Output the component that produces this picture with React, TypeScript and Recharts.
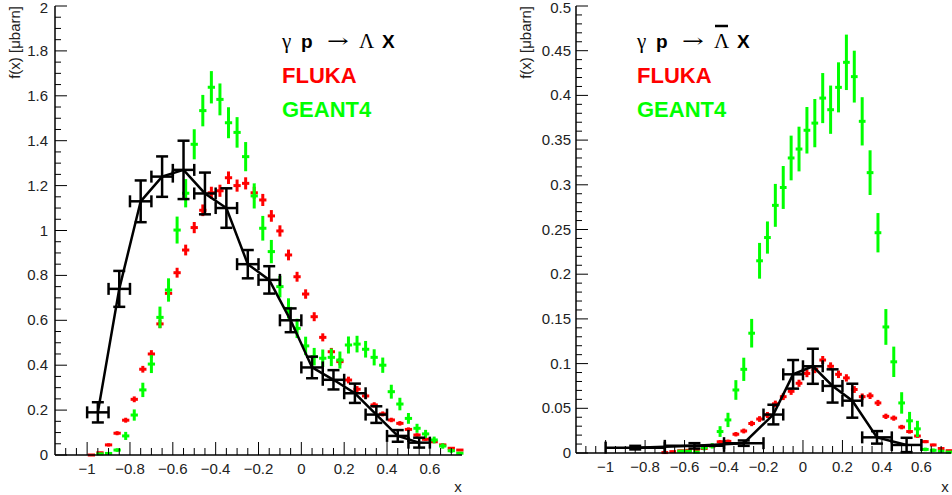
import React from "react";
import { ComposedChart, Scatter, ErrorBar, XAxis, YAxis } from "recharts";

// ---------- axis ticks ----------
const xMajor = [-1, -0.8, -0.6, -0.4, -0.2, 0, 0.2, 0.4, 0.6];
const xMajorLabels = ["\u22121", "\u22120.8", "\u22120.6", "\u22120.4", "\u22120.2", "0", "0.2", "0.4", "0.6"];
const lamYMajor = [0, 0.2, 0.4, 0.6, 0.8, 1, 1.2, 1.4, 1.6, 1.8, 2];
const lamYLabels = ["0", "0.2", "0.4", "0.6", "0.8", "1", "1.2", "1.4", "1.6", "1.8", "2"];
const barYMajor = [0, 0.05, 0.1, 0.15, 0.2, 0.25, 0.3, 0.35, 0.4, 0.45, 0.5];
const barYLabels = ["0", "0.05", "0.1", "0.15", "0.2", "0.25", "0.3", "0.35", "0.4", "0.45", "0.5"];

// ---------- gamma p -> Lambda X ----------
const lamDataX = [-0.95, -0.85, -0.75, -0.65, -0.55, -0.45, -0.35, -0.25, -0.15, -0.05, 0.05, 0.15, 0.25, 0.35, 0.45, 0.55];
const lamDataY = [0.19, 0.74, 1.13, 1.24, 1.27, 1.165, 1.1, 0.85, 0.78, 0.6, 0.39, 0.335, 0.275, 0.18, 0.085, 0.055];
const lamDataEy = [0.045, 0.08, 0.093, 0.09, 0.13, 0.093, 0.088, 0.063, 0.061, 0.053, 0.048, 0.043, 0.043, 0.037, 0.026, 0.022];

const lamFlukaX = [-0.98, -0.94, -0.9, -0.86, -0.82, -0.78, -0.74, -0.7, -0.66, -0.62, -0.58, -0.54, -0.5, -0.46, -0.42, -0.38, -0.34, -0.3, -0.26, -0.22, -0.18, -0.14, -0.1, -0.06, -0.02, 0.02, 0.06, 0.1, 0.14, 0.18, 0.22, 0.26, 0.3, 0.34, 0.38, 0.42, 0.46, 0.5, 0.54, 0.58, 0.62, 0.66, 0.7, 0.74];
const lamFlukaY = [0.0, 0.01, 0.045, 0.097, 0.155, 0.248, 0.382, 0.45, 0.584, 0.72, 0.812, 0.913, 1.013, 1.09, 1.168, 1.177, 1.235, 1.2, 1.21, 1.168, 1.136, 1.065, 0.998, 0.891, 0.794, 0.717, 0.616, 0.524, 0.46, 0.416, 0.334, 0.293, 0.263, 0.223, 0.183, 0.156, 0.141, 0.114, 0.089, 0.07, 0.059, 0.045, 0.03, 0.022];
const lamFlukaEy = [0.002, 0.004, 0.007, 0.009, 0.011, 0.013, 0.015, 0.017, 0.019, 0.021, 0.022, 0.024, 0.025, 0.026, 0.027, 0.027, 0.028, 0.027, 0.027, 0.027, 0.027, 0.026, 0.025, 0.024, 0.022, 0.021, 0.02, 0.018, 0.017, 0.016, 0.015, 0.014, 0.013, 0.012, 0.011, 0.01, 0.01, 0.009, 0.008, 0.007, 0.006, 0.006, 0.005, 0.004];

const lamGeantX = [-0.94, -0.9, -0.86, -0.82, -0.78, -0.74, -0.7, -0.66, -0.62, -0.58, -0.54, -0.5, -0.46, -0.42, -0.38, -0.34, -0.3, -0.26, -0.22, -0.18, -0.14, -0.1, -0.06, -0.02, 0.02, 0.06, 0.1, 0.14, 0.18, 0.22, 0.26, 0.3, 0.34, 0.38, 0.42, 0.46, 0.5, 0.54, 0.58, 0.62, 0.66, 0.7, 0.74];
const lamGeantY = [0.005, 0.007, 0.022, 0.085, 0.178, 0.29, 0.405, 0.613, 0.735, 1.002, 1.166, 1.384, 1.534, 1.638, 1.584, 1.48, 1.437, 1.329, 1.154, 1.01, 0.906, 0.75, 0.653, 0.564, 0.486, 0.438, 0.431, 0.435, 0.423, 0.49, 0.494, 0.471, 0.435, 0.4, 0.282, 0.227, 0.163, 0.119, 0.094, 0.067, 0.04, 0.019, 0.008];
const lamGeantEy = [0.004, 0.005, 0.008, 0.018, 0.025, 0.032, 0.04, 0.048, 0.052, 0.06, 0.063, 0.067, 0.07, 0.072, 0.071, 0.069, 0.068, 0.065, 0.056, 0.055, 0.052, 0.048, 0.045, 0.043, 0.041, 0.039, 0.039, 0.039, 0.038, 0.038, 0.037, 0.037, 0.036, 0.034, 0.031, 0.028, 0.024, 0.02, 0.018, 0.015, 0.012, 0.009, 0.006];

// ---------- gamma p -> anti-Lambda X ----------
const barDataX = [-0.85, -0.55, -0.3, -0.15, -0.05, 0.05, 0.15, 0.25, 0.375, 0.525];
const barDataY = [0.006, 0.008, 0.011, 0.043, 0.088, 0.097, 0.075, 0.0585, 0.0175, 0.009];
const barDataEx = [0.15, 0.15, 0.1, 0.05, 0.05, 0.05, 0.05, 0.05, 0.075, 0.075];
const barDataEy = [0.002, 0.003, 0.003, 0.011, 0.016, 0.0196, 0.0186, 0.019, 0.007, 0.008];

const barFlukaX = [-0.7, -0.66, -0.62, -0.58, -0.54, -0.5, -0.46, -0.42, -0.38, -0.34, -0.3, -0.26, -0.22, -0.18, -0.14, -0.1, -0.06, -0.02, 0.02, 0.06, 0.1, 0.14, 0.18, 0.22, 0.26, 0.3, 0.34, 0.38, 0.42, 0.46, 0.5, 0.54, 0.58, 0.62, 0.66, 0.7, 0.74];
const barFlukaY = [0.0005, 0.0015, 0.0025, 0.003, 0.004, 0.005, 0.008, 0.0125, 0.013, 0.021, 0.0246, 0.033, 0.038, 0.0425, 0.055, 0.063, 0.069, 0.078, 0.089, 0.0936, 0.104, 0.097, 0.088, 0.084, 0.071, 0.063, 0.064, 0.056, 0.041, 0.039, 0.029, 0.024, 0.019, 0.0127, 0.009, 0.005, 0.0026];
const barFlukaEy = [0.0005, 0.001, 0.001, 0.001, 0.0012, 0.0013, 0.0016, 0.002, 0.002, 0.0025, 0.0027, 0.003, 0.0032, 0.0034, 0.0036, 0.0038, 0.004, 0.004, 0.0042, 0.0043, 0.0045, 0.0044, 0.0042, 0.0041, 0.0038, 0.0036, 0.0036, 0.0034, 0.003, 0.0029, 0.0025, 0.0023, 0.002, 0.0017, 0.0014, 0.001, 0.0008];

const barGeantX = [-0.62, -0.58, -0.54, -0.5, -0.46, -0.42, -0.38, -0.34, -0.3, -0.26, -0.22, -0.18, -0.14, -0.1, -0.06, -0.02, 0.02, 0.06, 0.1, 0.14, 0.18, 0.22, 0.26, 0.3, 0.34, 0.38, 0.42, 0.46, 0.5, 0.54, 0.58, 0.62, 0.66, 0.7, 0.74];
const barGeantY = [0.002, 0.002, 0.001, 0.006, 0.008, 0.024, 0.037, 0.0705, 0.0936, 0.134, 0.215, 0.241, 0.277, 0.297, 0.33, 0.34, 0.361, 0.369, 0.397, 0.384, 0.409, 0.437, 0.421, 0.371, 0.3136, 0.2464, 0.141, 0.102, 0.056, 0.036, 0.027, 0.004, 0.003, 0.002, 0.001];
const barGeantEy = [0.001, 0.001, 0.001, 0.003, 0.003, 0.006, 0.008, 0.011, 0.013, 0.016, 0.02, 0.018, 0.024, 0.024, 0.025, 0.025, 0.026, 0.027, 0.028, 0.027, 0.028, 0.031, 0.029, 0.027, 0.025, 0.022, 0.02, 0.017, 0.012, 0.01, 0.009, 0.002, 0.002, 0.001, 0.001];

const fineBinHalf = 0.017;
const lamBinHalf = 0.05;

type Row = { x: number; y: number; ex: number; ey: number };

const toRows = (xs: number[], ys: number[], exs: number[] | number, eys: number[]): Row[] =>
  xs.map((x, i) => ({
    x,
    y: ys[i],
    ex: Array.isArray(exs) ? exs[i] : exs,
    ey: eys[i],
  }));

const steps = (a: number, b: number, s: number) => {
  const out: number[] = [];
  const n = Math.round((b - a) / s);
  for (let i = 0; i <= n; i++) out.push(+(a + i * s).toFixed(4));
  return out;
};

const xTicks = steps(-1.1, 0.7, 0.05);
const lamYTicks = steps(0, 2, 0.05);
const barYTicks = steps(0, 0.5, 0.01);

const FONT = "'Liberation Sans', Arial, Helvetica, sans-serif";
const SERIF = "'Liberation Serif', 'Times New Roman', serif";

const findMajor = (major: number[], v: number) => major.findIndex((m) => Math.abs(m - v) < 1e-6);

const xTick = (major: number[], labels: string[], side: "bottom" | "top") => (p: any) => {
  const idx = findMajor(major, p.payload.value);
  const len = idx >= 0 ? 13 : 7;
  const y2 = side === "bottom" ? p.y - len : p.y + len;
  return (
    <g>
      <line x1={p.x} x2={p.x} y1={p.y} y2={y2} stroke="#000" strokeWidth={1} />
      {side === "bottom" && idx >= 0 && (
        <text x={p.x} y={p.y + 19} textAnchor="middle" fontFamily={FONT} fontSize={15} fill="#222">
          {labels[idx]}
        </text>
      )}
    </g>
  );
};

const yTick = (major: number[], labels: string[], side: "left" | "right", gap: number) => (p: any) => {
  const idx = findMajor(major, p.payload.value);
  const len = idx >= 0 ? 12 : 6;
  const x2 = side === "left" ? p.x + len : p.x - len;
  // keep the topmost label inside the page
  const ty = Math.max(p.y + 5, 13);
  return (
    <g>
      <line x1={p.x} x2={x2} y1={p.y} y2={p.y} stroke="#000" strokeWidth={1} />
      {side === "left" && idx >= 0 && (
        <text x={p.x - gap} y={ty} textAnchor="end" fontFamily={FONT} fontSize={15} fill="#222">
          {labels[idx]}
        </text>
      )}
    </g>
  );
};

const noMarker = () => <g />;

interface PanelProps {
  width: number;
  yAxisWidth: number;
  xAxisHeight: number;
  marginRight: number;
  yMax: number;
  yTicks: number[];
  yMajor: number[];
  yLabels: string[];
  yGap: number;
  fluka: Row[];
  geant: Row[];
  data: Row[];
}

const Panel = (props: PanelProps) => {
  const axisLine = { stroke: "#000", strokeWidth: 1.5 };
  return (
    <ComposedChart
      width={props.width}
      height={495}
      margin={{ top: 6, right: props.marginRight, bottom: 0, left: 0 }}
    >
      <XAxis
        xAxisId="b"
        dataKey="x"
        type="number"
        domain={[-1.15, 0.75]}
        allowDataOverflow
        ticks={xTicks}
        interval={0}
        height={props.xAxisHeight}
        tickSize={0}
        tickMargin={0}
        axisLine={axisLine}
        tickLine={false}
        tick={xTick(xMajor, xMajorLabels, "bottom")}
      />
      <XAxis
        xAxisId="t"
        orientation="top"
        type="number"
        domain={[-1.15, 0.75]}
        allowDataOverflow
        ticks={xTicks}
        interval={0}
        height={0}
        tickSize={0}
        tickMargin={0}
        axisLine={axisLine}
        tickLine={false}
        tick={xTick(xMajor, xMajorLabels, "top")}
      />
      <YAxis
        yAxisId="l"
        dataKey="y"
        type="number"
        domain={[0, props.yMax]}
        allowDataOverflow
        ticks={props.yTicks}
        interval={0}
        width={props.yAxisWidth}
        tickSize={0}
        tickMargin={0}
        axisLine={axisLine}
        tickLine={false}
        tick={yTick(props.yMajor, props.yLabels, "left", props.yGap)}
      />
      <YAxis
        yAxisId="r"
        orientation="right"
        type="number"
        domain={[0, props.yMax]}
        allowDataOverflow
        ticks={props.yTicks}
        interval={0}
        width={0}
        tickSize={0}
        tickMargin={0}
        axisLine={axisLine}
        tickLine={false}
        tick={yTick(props.yMajor, props.yLabels, "right", props.yGap)}
      />
      <Scatter xAxisId="b" yAxisId="l" data={props.fluka} dataKey="y" shape={noMarker} isAnimationActive={false}>
        <ErrorBar dataKey="ex" direction="x" width={0} stroke="#ff0000" strokeWidth={3} isAnimationActive={false} />
        <ErrorBar dataKey="ey" direction="y" width={0} stroke="#ff0000" strokeWidth={3} isAnimationActive={false} />
      </Scatter>
      <Scatter xAxisId="b" yAxisId="l" data={props.geant} dataKey="y" shape={noMarker} isAnimationActive={false}>
        <ErrorBar dataKey="ex" direction="x" width={0} stroke="#00ff00" strokeWidth={3} isAnimationActive={false} />
        <ErrorBar dataKey="ey" direction="y" width={0} stroke="#00ff00" strokeWidth={3} isAnimationActive={false} />
      </Scatter>
      <Scatter
        xAxisId="b"
        yAxisId="l"
        data={props.data}
        dataKey="y"
        shape={noMarker}
        line={{ stroke: "#000", strokeWidth: 2.5 }}
        lineType="joint"
        isAnimationActive={false}
      >
        <ErrorBar dataKey="ex" direction="x" width={6} stroke="#000" strokeWidth={2.5} isAnimationActive={false} />
        <ErrorBar dataKey="ey" direction="y" width={6} stroke="#000" strokeWidth={2.5} isAnimationActive={false} />
      </Scatter>
    </ComposedChart>
  );
};

const Labels = ({ x0, yLabelX, xLabelX, anti }: { x0: number; yLabelX: number; xLabelX: number; anti: boolean }) => (
  <g>
    <text x={x0} y={48} fontFamily={SERIF} fontSize={21}>γ</text>
    <text x={x0 + 19} y={48} fontFamily={FONT} fontWeight="bold" fontSize={19}>p</text>
    <text
      transform={`translate(${x0 + 45},47) scale(1.45,1)`}
      fontFamily="'DejaVu Serif', serif"
      fontSize={18}
    >
      →
    </text>
    <text x={x0 + 77} y={48} fontFamily={SERIF} fontSize={21}>Λ</text>
    {anti && <line x1={x0 + 78} x2={x0 + 91} y1={26} y2={26} stroke="#000" strokeWidth={2.5} />}
    <text x={x0 + 100} y={48} fontFamily={FONT} fontWeight="bold" fontSize={19}>X</text>
    <text x={x0} y={83} fontFamily={FONT} fontWeight="bold" fontSize={22} fill="#ff0000">FLUKA</text>
    <text x={x0} y={117} fontFamily={FONT} fontWeight="bold" fontSize={22} fill="#00ff00">GEANT4</text>
    <text
      transform={`translate(${yLabelX},6) rotate(-90)`}
      textAnchor="end"
      fontFamily={FONT}
      fontSize={15}
      fill="#222"
    >
      f(x) [μbarn]
    </text>
    <text x={xLabelX} y={492} textAnchor="middle" fontFamily={FONT} fontSize={15} fill="#222">x</text>
  </g>
);

export default function App() {
  return (
    <div style={{ position: "absolute", left: 0, top: 0, width: 952, height: 495, background: "#fff", overflow: "hidden" }}>
      <div style={{ position: "absolute", left: 0, top: 0 }}>
        <Panel
          width={480}
          yAxisWidth={55}
          xAxisHeight={40}
          marginRight={18}
          yMax={2}
          yTicks={lamYTicks}
          yMajor={lamYMajor}
          yLabels={lamYLabels}
          yGap={7}
          fluka={toRows(lamFlukaX, lamFlukaY, fineBinHalf, lamFlukaEy)}
          geant={toRows(lamGeantX, lamGeantY, fineBinHalf, lamGeantEy)}
          data={toRows(lamDataX, lamDataY, lamBinHalf, lamDataEy)}
        />
      </div>
      <div style={{ position: "absolute", left: 500, top: 0 }}>
        <Panel
          width={452}
          yAxisWidth={76}
          xAxisHeight={42}
          marginRight={1}
          yMax={0.5}
          yTicks={barYTicks}
          yMajor={barYMajor}
          yLabels={barYLabels}
          yGap={5}
          fluka={toRows(barFlukaX, barFlukaY, fineBinHalf, barFlukaEy)}
          geant={toRows(barGeantX, barGeantY, fineBinHalf, barGeantEy)}
          data={toRows(barDataX, barDataY, barDataEx, barDataEy)}
        />
      </div>
      <svg width={952} height={495} style={{ position: "absolute", left: 0, top: 0, pointerEvents: "none" }}>
        <Labels x0={282} yLabelX={20} xLabelX={458} anti={false} />
        <Labels x0={637} yLabelX={531} xLabelX={945} anti={true} />
      </svg>
    </div>
  );
}
